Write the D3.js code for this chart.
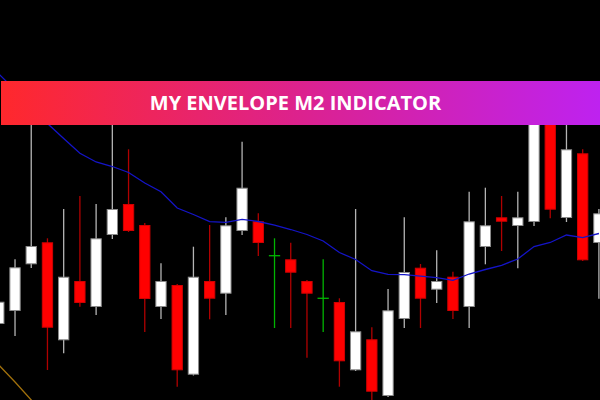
<!DOCTYPE html>
<html>
<head>
<meta charset="utf-8">
<script src="https://cdn.jsdelivr.net/npm/d3@7"></script>
<style>
html,body{margin:0;padding:0;background:#000;}
svg{display:block;}
</style>
</head>
<body>
<svg id="chart" width="600" height="400"></svg>
<script>
// ---- data ----
const opens  = [1.10760,1.10890,1.11357,1.11577,1.10597,1.11190,1.10930,1.11650,1.11960,1.11750,
                1.10930,1.11150,1.10253,1.11190,1.11063,1.11690,1.11787,1.11443,1.11407,1.11190,
                1.11017,1.10980,1.10297,1.10607,1.10040,1.10810,1.11323,1.11103,1.11233,1.10930,
                1.11530,1.11827,1.11740,1.11780,1.12900,1.11820,1.12467,1.11570];
const highs  = [1.11370,1.11407,1.12900,1.11617,1.11910,1.12040,1.11960,1.12950,1.12507,1.11770,
                1.11367,1.11160,1.11533,1.11750,1.11827,1.12583,1.11867,1.11617,1.11573,1.11200,
                1.11407,1.11017,1.11910,1.10727,1.11110,1.11827,1.11360,1.11497,1.11283,1.12083,
                1.12123,1.12040,1.12083,1.13050,1.13100,1.13000,1.12507,1.11910];
const lows   = [1.10730,1.10640,1.11320,1.10300,1.10467,1.10933,1.10850,1.11610,1.11680,1.10680,
                1.10810,1.10133,1.10245,1.10807,1.10850,1.11650,1.11440,1.10720,1.10720,1.10423,
                1.10680,1.10133,1.10290,1.09980,1.10030,1.10720,1.10720,1.10970,1.10810,1.10720,
                1.11357,1.11490,1.11317,1.11740,1.11817,1.11780,1.11390,1.11013];
const closes = [1.10983,1.11327,1.11540,1.10723,1.11233,1.10970,1.11617,1.11910,1.11690,1.11010,
                1.11190,1.10297,1.11233,1.11013,1.11747,1.12123,1.11570,1.11443,1.11273,1.11063,
                1.11017,1.10387,1.10687,1.10083,1.10897,1.11280,1.11013,1.11190,1.10890,1.11787,
                1.11747,1.11783,1.11827,1.13000,1.11903,1.12507,1.11397,1.11867];
const envelopeMid = [1.13260,1.13100,1.12930,1.12765,1.12615,1.12468,1.12380,1.12335,1.12275,1.12170,
                1.12083,1.11920,1.11855,1.11783,1.11777,1.11807,1.11785,1.11748,1.11705,1.11655,
                1.11590,1.11475,1.11405,1.11293,1.11257,1.11253,1.11238,1.11224,1.11197,1.11260,
                1.11305,1.11347,1.11410,1.11535,1.11575,1.11650,1.11623,1.11665];
const envelopeLow = [1.10350,1.10180,1.10000,1.09820];
const title = "MY ENVELOPE M2 INDICATOR";

// ---- chart ----
const svg = d3.select("#chart");
const W = 600, H = 400;
svg.append("rect").attr("width", W).attr("height", H).attr("fill", "#000");

const x = d3.scaleLinear().domain([0, opens.length - 1]).range([-1.2, 598.9]);
const y = d3.scaleLinear().domain([1.1000, 1.1400]).range([H, 0]);
const bodyW = 11.3;

const candles = opens.map((o, i) => ({i, o, h: highs[i], l: lows[i], c: closes[i]}));
const kind = d => d.o === d.c ? "doji" : (d.c > d.o ? "up" : "down");
const wickColor = {up: "#b4b4b4", down: "#b00000", doji: "#00b400"};

const g = svg.append("g");
g.selectAll("line.wick").data(candles).join("line")
  .attr("class", "wick")
  .attr("x1", d => x(d.i)).attr("x2", d => x(d.i))
  .attr("y1", d => y(d.h)).attr("y2", d => y(d.l))
  .attr("stroke", d => wickColor[kind(d)])
  .attr("stroke-width", 1.3);

g.selectAll("rect.body").data(candles.filter(d => kind(d) !== "doji")).join("rect")
  .attr("class", "body")
  .attr("x", d => x(d.i) - bodyW / 2 + 0.5)
  .attr("width", bodyW - 1)
  .attr("y", d => y(Math.max(d.o, d.c)) + 0.5)
  .attr("height", d => Math.max(1, Math.abs(y(d.o) - y(d.c)) - 1))
  .attr("fill", d => kind(d) === "up" ? "#ffffff" : "#ff0000")
  .attr("stroke", d => kind(d) === "up" ? "#8a8a8a" : "#d00000")
  .attr("stroke-width", 1);

g.selectAll("line.doji").data(candles.filter(d => kind(d) === "doji")).join("line")
  .attr("class", "doji")
  .attr("x1", d => x(d.i) - bodyW / 2).attr("x2", d => x(d.i) + bodyW / 2)
  .attr("y1", d => y(d.o)).attr("y2", d => y(d.o))
  .attr("stroke", "#00b400").attr("stroke-width", 1.3);

const line = d3.line().x((d, i) => x(i)).y(d => y(d));
svg.append("path").datum(envelopeMid)
  .attr("d", line).attr("fill", "none")
  .attr("stroke", "#1414c8").attr("stroke-width", 1.3);
svg.append("path").datum(envelopeLow)
  .attr("d", line).attr("fill", "none")
  .attr("stroke", "#a0700c").attr("stroke-width", 1.3);

// ---- banner ----
const defs = svg.append("defs");
const grad = defs.append("linearGradient").attr("id", "bannerGrad")
  .attr("x1", "0%").attr("x2", "100%").attr("y1", "0%").attr("y2", "0%");
grad.append("stop").attr("offset", "0%").attr("stop-color", "#ff282c");
grad.append("stop").attr("offset", "50%").attr("stop-color", "#dc228e");
grad.append("stop").attr("offset", "100%").attr("stop-color", "#be22f0");

svg.append("rect")
  .attr("x", 1).attr("y", 81).attr("width", 599).attr("height", 44)
  .attr("fill", "url(#bannerGrad)");

svg.append("text")
  .attr("x", 295.5).attr("y", 109.5)
  .attr("text-anchor", "middle")
  .attr("fill", "#ffffff")
  .attr("font-family", "'Open Sans', 'Noto Sans', sans-serif")
  .attr("font-weight", 700)
  .attr("font-size", 20)
  .text(title);
</script>
</body>
</html>
